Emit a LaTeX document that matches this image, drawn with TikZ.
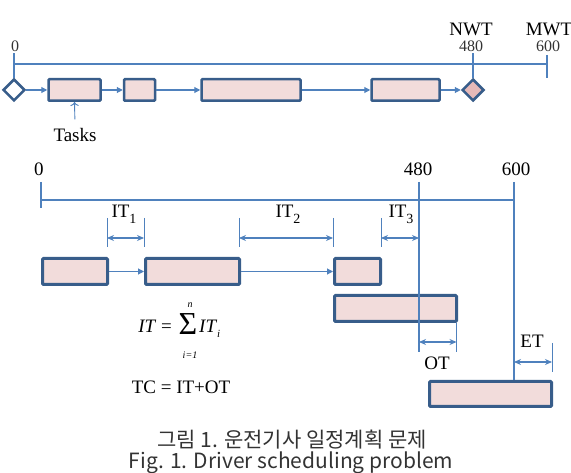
\documentclass[tikz,border=0pt]{standalone}
\usepackage{fontspec}
\setmainfont{Liberation Serif}
\newfontfamily\krfont{Noto Sans CJK KR}
\usetikzlibrary{positioning, arrows.meta, shapes.geometric}

% lowered index, as in IT_1
\newcommand{\lowidx}[1]{\raisebox{-0.3em}{\fontsize{14}{14}\selectfont #1}}

\begin{document}
\begin{tikzpicture}[x=1pt, y=-1pt, font=\fontsize{19}{22}\selectfont,
    taskbox/.style={draw=taskline, fill=taskfill, line width=2.5pt, rounded corners=1pt,
        minimum height=21.5, inner sep=0pt},
    bigtask/.style={taskbox, line width=3pt, minimum height=26},
    endpoint/.style={diamond, draw=taskline, line width=2.5pt, minimum width=22,
        minimum height=22, inner sep=0pt},
    axisline/.style={draw=linkcolor, line width=1.1pt},
    extline/.style={draw=linkcolor, line width=0.8pt},
    chain/.style={draw=linkcolor, line width=1.1pt, -{Triangle[length=6pt, width=6pt]}},
    dimarrow/.style={draw=linkcolor, line width=1.1pt,
        {Stealth[length=7pt, width=6pt]}-{Stealth[length=7pt, width=6pt]}},
    label/.style={anchor=base, inner sep=1pt},
    smallnum/.style={label, inner sep=0pt, font=\fontsize{16}{18}\selectfont, text=black!80},
    limit/.style={label, inner sep=0pt, font=\fontsize{10}{10}\selectfont\itshape},
    caption/.style={anchor=base, inner sep=1pt, text=black!80}]

    % Define colors
    \definecolor{taskfill}{HTML}{F2DCDB}
    \definecolor{taskline}{HTML}{385D8A}
    \definecolor{linkcolor}{HTML}{4F81BD}
    \definecolor{endfill}{HTML}{E6B9B8}

    \useasboundingbox (0,0) rectangle (571,473);

    % ===== 1. ONE DUTY (top) =====
    \draw[axisline] (15,64) -- (547,64);
    \node[smallnum] (top0) at (15,52) {0};
    \node[smallnum] (top480) at (471,52) {480};
    \node[smallnum] (top600) at (548,52) {600};
    \node[label, inner sep=0pt] (nwt) at (471,36) {NWT};
    \node[label, inner sep=0pt] (mwt) at (549,36) {MWT};

    \node[endpoint, fill=white] (start) at (14,90) {};
    \node[taskbox, minimum width=52] (t1) at (74.5,90) {};
    \node[taskbox, minimum width=31] (t2) at (139.5,90) {};
    \node[taskbox, minimum width=99] (t3) at (251,90) {};
    \node[taskbox, minimum width=68] (t4) at (405.5,90) {};
    \node[endpoint, fill=endfill] (finish) at (473,90) {};

    \draw[axisline] (start.north) -- (14,53);
    \draw[axisline] (finish.north) -- (473,53);
    \draw[axisline] (547,55) -- (547,78);

    \draw[chain] (start) -- (t1);
    \draw[chain] (t1) -- (t2);
    \draw[chain] (t2) -- (t3);
    \draw[chain] (t3) -- (t4);
    \draw[chain] (t4) -- (finish);

    \node[anchor=base] (tasks) at (75,142) {Tasks};
    \draw[draw=linkcolor, line width=0.9pt, -{To[length=4pt]}, shorten <=6pt] (tasks.north) -- (t1.south);

    % ===== 2. IDLE AND OVER TIME (bottom) =====
    \draw[axisline] (41,200) -- (514,200);
    \node[label] (bot0) at (39,176) {0};
    \node[label] (bot480) at (418,176) {480};
    \node[label] (bot600) at (516,176) {600};

    \node[bigtask, minimum width=65] (a) at (75,271.5) {};
    \node[bigtask, minimum width=94] (b) at (192.5,271.5) {};
    \node[bigtask, minimum width=46] (c) at (357.5,271.5) {};
    \node[bigtask, minimum width=122] (d) at (395.5,308.5) {};
    \node[bigtask, minimum width=122, minimum height=25] (e) at (490.5,394) {};

    \draw[chain] (a) -- (b);
    \draw[chain] (b) -- (c);

    \draw[axisline] (41,182) -- (41,208);
    \draw[axisline] (419,182) -- (419,352);
    \draw[axisline] (514,182) -- (e.north -| 514,0);

    % idle times
    \draw[extline] (107,218) -- (107,247);
    \draw[extline] (144,218) -- (144,247);
    \draw[extline] (239,218) -- (239,247);
    \draw[extline] (333,218) -- (333,247);
    \draw[extline] (381,218) -- (381,247);
    \coordinate (it1l) at (107,238);
    \coordinate (it1r) at (144,238);
    \coordinate (it2l) at (239,238);
    \coordinate (it2r) at (333,238);
    \coordinate (it3l) at (381,238);
    \coordinate (it3r) at (419,238);
    \draw[dimarrow] (it1l) -- (it1r);
    \draw[dimarrow] (it2l) -- (it2r);
    \draw[dimarrow] (it3l) -- (it3r);
    \node[label] (it1) at (124,218) {IT\lowidx{1}};
    \node[label] (it2) at (288,218) {IT\lowidx{2}};
    \node[label] (it3) at (401,218) {IT\lowidx{3}};

    % over time and extra time
    \draw[extline] (d.south east) ++(-1.5,0) -- ++(0,29);
    \draw[extline] (552,343) -- (552,372);
    \coordinate (otl) at (419,342);
    \coordinate (otr) at (456.5,342);
    \coordinate (etl) at (514,362);
    \coordinate (etr) at (552,362);
    \draw[dimarrow] (otl) -- (otr);
    \draw[dimarrow] (etl) -- (etr);
    \node[label] (ot) at (437,370) {OT};
    \node[label] (et) at (532,348) {ET};

    % 3. Formulas
    \node[label, anchor=base east] (itlhs) at (173,333) {\textit{IT} =};
    \node[label, inner sep=0pt, font=\fontsize{32}{32}\selectfont] (sigma) at (188,335) {Σ};
    \node[limit] (sigtop) at (190,308) {n};
    \node[limit] (sigbot) at (190,359) {i=1};
    \node[label, anchor=base west] (itrhs) at (198,333) {\textit{IT}\raisebox{-0.25em}{\fontsize{11}{11}\selectfont\itshape i}};
    \node[label] (tc) at (181,393) {TC = IT+OT};

    % 4. Caption
    \node[caption, font=\krfont\fontsize{21}{23}\selectfont] (capkr) at (292,447) {그림 1. 운전기사 일정계획 문제};
    \node[caption, font=\krfont\fontsize{21}{23}\selectfont] (capen) at (291,468) {Fig. 1. Driver scheduling problem};

\end{tikzpicture}
\end{document}
